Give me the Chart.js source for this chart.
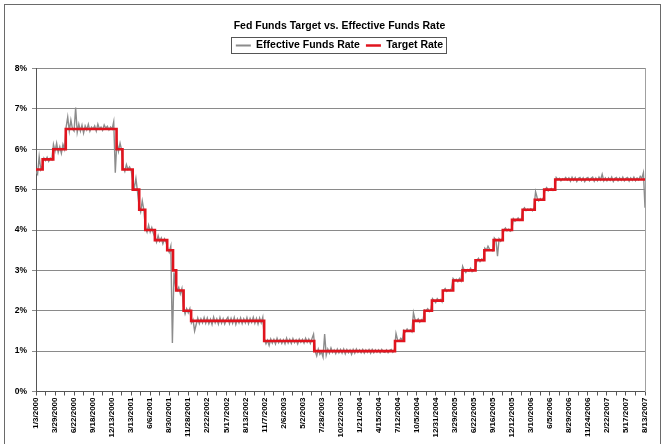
<!DOCTYPE html>
<html><head><meta charset="utf-8">
<script src="https://cdn.jsdelivr.net/npm/chart.js@4.4.1/dist/chart.umd.min.js"></script>
<style>html,body{margin:0;padding:0;background:#fff}#wrap{width:665px;height:444px}</style>
</head><body><div id="wrap"><canvas id="c" width="665" height="444"></canvas></div>
<script>
// Tick labels: one every 60 business days
const tickDates = ["1/3/2000","3/29/2000","6/22/2000","9/18/2000","12/13/2000","3/13/2001","6/6/2001","8/30/2001","11/28/2001","2/22/2002","5/17/2002","8/13/2002","11/7/2002","2/6/2003","5/2/2003","7/28/2003","10/22/2003","1/21/2004","4/15/2004","7/12/2004","10/5/2004","12/31/2004","3/29/2005","6/22/2005","9/16/2005","12/12/2005","3/10/2006","6/5/2006","8/29/2006","11/24/2006","2/22/2007","5/17/2007","8/13/2007"];
const labelEvery = 60;   // business days between labels
const tickEvery = 30;    // business days between tick marks

// Target rate: date of each change and the new rate
const targetDates = ["1/3/2000","2/2/2000","3/21/2000","5/16/2000","1/3/2001","1/31/2001","3/20/2001","4/18/2001","5/15/2001","6/27/2001","8/21/2001","9/17/2001","10/2/2001","11/6/2001","12/11/2001","11/6/2002","6/25/2003","6/30/2004","8/10/2004","9/21/2004","11/10/2004","12/14/2004","2/2/2005","3/22/2005","5/3/2005","6/30/2005","8/9/2005","9/20/2005","11/1/2005","12/13/2005","1/31/2006","3/28/2006","5/10/2006","6/29/2006","8/13/2007"];
const targetRates = [5.5,5.75,6.0,6.5,6.0,5.5,5.0,4.5,4.0,3.75,3.5,3.0,2.5,2.0,1.75,1.25,1.0,1.25,1.5,1.75,2.0,2.25,2.5,2.75,3.0,3.25,3.5,3.75,4.0,4.25,4.5,4.75,5.0,5.25,5.25];

// Effective funds rate, one reading every 5 business days (rows = 60 business days)
const effectiveStep = 5;
const effectiveRate = [
5.45,5.38,5.82,5.50,5.60,5.78,5.72,5.80,5.70,5.78,5.74,6.12,
5.95,6.15,5.92,6.06,5.90,6.12,6.00,6.55,6.80,6.45,6.72,6.50,
6.45,7.03,6.42,6.62,6.45,6.60,6.40,6.58,6.48,6.62,6.45,6.55,
6.50,6.58,6.45,6.62,6.50,6.55,6.47,6.60,6.52,6.57,6.48,6.55,
6.50,6.68,5.42,6.20,5.95,6.15,5.98,5.55,5.45,5.62,5.50,5.56,
5.48,5.22,5.05,5.28,4.95,4.60,4.45,4.72,4.50,4.05,3.95,4.12,
3.95,4.06,3.92,3.82,3.70,3.86,3.72,3.80,3.66,3.78,3.70,3.55,
3.45,3.60,1.20,2.95,2.60,2.50,2.58,2.42,2.55,2.10,1.92,2.05,
1.95,2.05,1.70,1.78,1.50,1.66,1.82,1.68,1.80,1.70,1.83,1.69,
1.82,1.68,1.79,1.66,1.84,1.70,1.80,1.67,1.83,1.69,1.80,1.67,
1.78,1.84,1.68,1.81,1.69,1.83,1.66,1.80,1.70,1.82,1.68,1.80,
1.70,1.83,1.68,1.81,1.71,1.84,1.69,1.81,1.67,1.82,1.70,1.84,
1.30,1.18,1.27,1.14,1.30,1.20,1.29,1.18,1.32,1.21,1.29,1.19,
1.28,1.18,1.32,1.20,1.29,1.19,1.31,1.21,1.28,1.18,1.30,1.22,
1.29,1.20,1.32,1.22,1.30,1.19,1.31,1.42,1.00,0.88,1.05,0.92,
0.98,0.85,1.42,0.90,1.05,0.95,1.08,0.97,1.03,0.94,1.05,0.96,
1.04,0.95,1.05,0.93,1.04,0.96,1.03,0.92,1.04,0.95,1.05,0.97,
1.03,0.96,1.04,0.95,1.03,0.97,1.04,0.95,1.04,0.96,1.03,0.97,
1.03,0.96,1.04,0.98,0.97,1.03,0.96,1.02,1.04,0.97,1.02,1.44,
1.28,1.25,1.32,1.27,1.52,1.48,1.55,1.50,1.53,1.48,1.95,1.78,
1.75,1.80,1.72,1.78,1.75,2.02,2.00,2.05,1.98,2.02,2.30,2.25,
2.20,2.30,2.25,2.28,2.22,2.50,2.55,2.48,2.52,2.50,2.55,2.80,
2.75,2.78,2.72,2.80,2.74,3.10,3.00,2.95,3.02,2.98,3.05,2.97,
3.00,3.05,3.25,3.30,3.22,3.28,3.25,3.55,3.50,3.60,3.52,3.50,
3.48,3.80,3.75,3.35,3.78,3.72,3.78,4.00,4.05,3.98,4.02,3.97,
4.00,4.28,4.22,4.25,4.30,4.24,4.26,4.50,4.55,4.48,4.52,4.50,
4.53,4.48,4.55,4.95,4.80,4.72,4.78,4.74,4.80,5.00,5.05,4.97,
5.00,5.03,4.98,5.02,5.30,5.25,5.28,5.22,5.27,5.25,5.30,5.24,
5.29,5.21,5.31,5.23,5.30,5.20,5.28,5.30,5.22,5.29,5.20,5.28,
5.30,5.22,5.28,5.31,5.21,5.29,5.22,5.31,5.24,5.38,5.22,5.29,
5.22,5.29,5.23,5.31,5.20,5.28,5.30,5.22,5.29,5.23,5.31,5.22,
5.28,5.30,5.21,5.29,5.23,5.31,5.22,5.29,5.24,5.33,5.28,5.42,
4.55
];

const yTicks = [0,1,2,3,4,5,6,7,8];

// ---- helpers ----
function dayNum(s){const [m,d,y]=s.split('/').map(Number);return Date.UTC(y,m-1,d)/86400000;}
const tickDays = tickDates.map(dayNum);
function dayPos(s){
  const d = dayNum(s);
  for(let k=0;k<tickDays.length-1;k++){
    if(d>=tickDays[k] && d<=tickDays[k+1]){
      return labelEvery*k + labelEvery*(d-tickDays[k])/(tickDays[k+1]-tickDays[k]);
    }
  }
  return d<tickDays[0]?0:labelEvery*(tickDays.length-1);
}
const targetData = targetDates.map((d,i)=>({x:dayPos(d), y:targetRates[i]}));
const effectiveData = effectiveRate.map((v,i)=>({x:i*effectiveStep, y:v}));
const xMax = labelEvery*(tickDates.length-1);

const FONT = "'Liberation Sans', Arial, Helvetica, sans-serif";

const framePlugin = {
  id:'frame',
  afterDraw(chart){
    const ctx = chart.ctx;
    ctx.save();
    // outer border
    ctx.strokeStyle = '#6a6a6a'; ctx.lineWidth = 1;
    ctx.strokeRect(4.5,4.5,656,460);
    // legend border
    const hb = chart.legend && chart.legend.legendHitBoxes;
    if(hb && hb.length){
      let l=Infinity,r=-Infinity,t=Infinity,b=-Infinity;
      hb.forEach(h=>{l=Math.min(l,h.left);r=Math.max(r,h.left+h.width);t=Math.min(t,h.top);b=Math.max(b,h.top+h.height);});
      ctx.strokeStyle = '#555'; ctx.lineWidth = 1;
      ctx.strokeRect(Math.round(l-4.5)+0.5, Math.round(t-3)+0.5, Math.round(r-l+8), Math.round(b-t+5.5));
    }
    ctx.restore();
  }
};

new Chart(document.getElementById('c'), {
  type:'line',
  data:{datasets:[
    {label:'Effective Funds Rate', data:effectiveData, borderColor:'#8c8c8c', backgroundColor:'#8c8c8c', borderWidth:1.4, pointRadius:0, tension:0, order:1},
    {label:'Target Rate', data:targetData, borderColor:'#e0141e', backgroundColor:'#e0141e', borderWidth:2.6, pointRadius:0, stepped:'before', order:0}
  ]},
  options:{
    responsive:false, animation:false, events:[],
    layout:{padding:{left:14,right:0,top:0,bottom:0}},
    plugins:{
      title:{display:true, text:'Fed Funds Target vs. Effective Funds Rate', color:'#000',
        font:{family:FONT, size:10.5, weight:'bold', lineHeight:1.2}, padding:{top:20,bottom:1.65}},
      legend:{display:true, position:'top',
        labels:{usePointStyle:true, pointStyle:'line', pointStyleWidth:15, padding:6, color:'#000',
          font:{family:FONT, size:10.5, weight:'bold'},
          sort:(a,b)=>a.datasetIndex-b.datasetIndex,
          generateLabels(chart){
            const items = Chart.defaults.plugins.legend.labels.generateLabels(chart);
            items.forEach(it=>{it.lineWidth = it.datasetIndex===0?2:2.6;});
            return items;
          }}},
      subtitle:{display:true, text:'', weight:500, font:{size:1,lineHeight:1}, padding:{top:6.75,bottom:0}},
      tooltip:{enabled:false}
    },
    scales:{
      x:{type:'linear', min:0, max:xMax,
        afterBuildTicks(s){ const t=[]; for(let v=0; v<=xMax; v+=tickEvery) t.push({value:v}); s.ticks=t; },
        afterFit(s){ s.height = 52.5; },
        ticks:{autoSkip:false, maxRotation:90, minRotation:90, padding:2, color:'#000',
          font:{family:FONT, size:8, weight:'bold'},
          callback:(v)=> (v%labelEvery===0) ? tickDates[v/labelEvery] : ''},
        grid:{drawOnChartArea:false, drawTicks:true, tickLength:4, color:'#555'},
        border:{display:true, color:'#555', width:1}
      },
      y:{min:0, max:8,
        afterBuildTicks(s){ s.ticks = yTicks.map(v=>({value:v})); },
        afterFit(s){ s.width = 22; },
        ticks:{padding:5, color:'#000', font:{family:FONT, size:8.5, weight:'bold'}, callback:(v)=>v+'%'},
        grid:{color:'#8a8a8a', lineWidth:1, tickLength:4, drawTicks:true},
        border:{display:true, color:'#555', width:1}
      },
      y2:{position:'right', min:0, max:8, display:true,
        afterFit(s){ s.width = 20; },
        ticks:{display:false},
        grid:{display:false, drawOnChartArea:false, drawTicks:false},
        border:{display:true, color:'#a0a0a0', width:1}
      }
    }
  },
  plugins:[framePlugin]
});
</script>
</body></html>
